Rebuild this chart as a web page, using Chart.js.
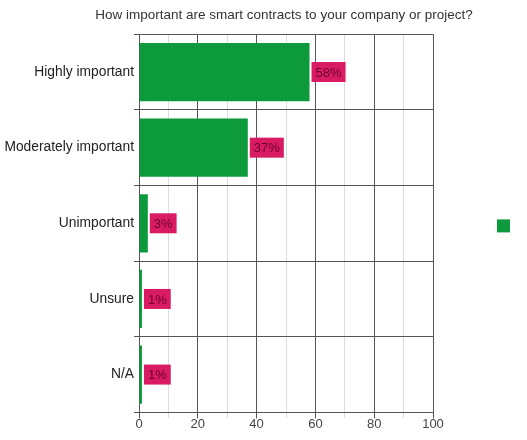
<!DOCTYPE html>
<html>
<head>
<meta charset="utf-8">
<script src="https://cdn.jsdelivr.net/npm/chart.js@4"></script>
<style>
  html, body { margin: 0; padding: 0; background: #fff; }
  #wrap { width: 527px; height: 440px; }
</style>
</head>
<body>
<div id="wrap"><canvas id="myChart" width="527" height="440"></canvas></div>
<script>
const titre = 'How important are smart contracts to your company or project?';
const categories = ['Highly important', 'Moderately important', 'Unimportant', 'Unsure', 'N/A'];
const pourcentages = [58, 37, 3, 1, 1];
const ticksX = [0, 20, 40, 60, 80, 100];

const police = '"Liberation Sans", Arial, sans-serif';

// étiquettes roses à droite de chaque barre
const etiquettes = {
    id: 'etiquettes',
    afterDatasetsDraw(chart) {
        const ctx = chart.ctx;
        const meta = chart.getDatasetMeta(0);
        ctx.save();
        ctx.font = '13px ' + police;
        ctx.textBaseline = 'middle';
        ctx.textAlign = 'left';
        meta.data.forEach((bar, i) => {
            const txt = pourcentages[i] + '%';
            const w = ctx.measureText(txt).width + 8;
            const x = bar.x + 2;
            ctx.fillStyle = '#d81b63';
            ctx.fillRect(x, bar.y - 10, w, 20);
            ctx.fillStyle = '#6e002a';
            ctx.fillText(txt, x + 4, bar.y + 1);
        });
        ctx.restore();
    }
};

const ctx = document.getElementById('myChart');
new Chart(ctx, {
    type: 'bar',
    data: {
        labels: categories,
        datasets: [{
            label: '',
            data: pourcentages,
            backgroundColor: '#0c9a3c',
            borderWidth: 0,
            categoryPercentage: 1,
            barPercentage: 0.77
        }]
    },
    options: {
        indexAxis: 'y',
        responsive: false,
        animation: false,
        layout: { padding: { top: 5, right: 7, left: 3, bottom: 10 } },
        plugins: {
            title: {
                display: true,
                // espaces insécables en tête pour centrer le titre au-dessus du graphe
                text: '\u00a0'.repeat(12) + titre,
                color: '#333',
                font: { family: police, size: 13.5, weight: 'normal' },
                padding: { top: 2, bottom: 11 }
            },
            legend: {
                position: 'right',
                rtl: true, // carré collé au bord droit, espace à gauche
                // titre vide : descend un peu le carré
                title: { display: true, text: '', padding: 0, font: { size: 14 } },
                labels: { boxWidth: 13, boxHeight: 13, padding: 10, font: { size: 108 } }
            },
            tooltip: { enabled: false }
        },
        scales: {
            x: {
                min: 0,
                max: 100,
                ticks: {
                    stepSize: 10,
                    color: '#444',
                    padding: -2,
                    font: { family: police, size: 13 },
                    callback: v => ticksX.includes(v) ? v : ''
                },
                grid: {
                    color: c => (c.tick && c.tick.value % 20 === 0) ? '#555' : '#ddd',
                    tickLength: 6
                },
                border: { color: '#555' }
            },
            y: {
                afterFit: s => { s.width = 136; },
                ticks: {
                    color: '#222',
                    padding: 0,
                    font: { family: police, size: 13.8 }
                },
                grid: { color: '#555', tickLength: 5 },
                border: { color: '#555' }
            }
        }
    },
    plugins: [etiquettes]
});
</script>
</body>
</html>
